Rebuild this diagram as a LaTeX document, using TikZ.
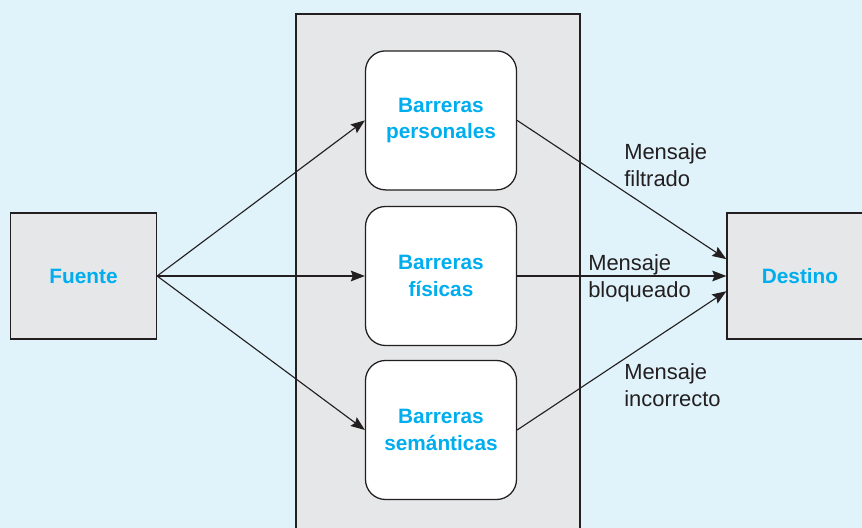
\documentclass[tikz,border=0pt]{standalone}
\usepackage{fontspec}
\setmainfont{Liberation Sans}
\usetikzlibrary{arrows.meta}
\definecolor{bgblue}{RGB}{224,243,251}
\definecolor{boxgray}{RGB}{230,231,232}
\definecolor{titlecyan}{RGB}{0,174,239}
\definecolor{inkdark}{RGB}{35,31,32}
\begin{document}
\begin{tikzpicture}[x=1cm,y=1cm]
\tikzset{
  endbox/.style={rectangle,draw=inkdark,fill=boxgray,line width=0.9pt,minimum width=3.65cm,minimum height=3.15cm,inner sep=0pt,
    font=\fontsize{14.8}{19}\selectfont\bfseries,text=titlecyan},
  barrier/.style={rectangle,rounded corners=0.5cm,draw=inkdark,fill=white,line width=0.9pt,minimum width=3.775cm,minimum height=3.475cm,
    inner sep=0pt,align=center,font=\fontsize{14.8}{19}\selectfont\bfseries,text=titlecyan},
  msglabel/.style={anchor=west,align=left,inner sep=0pt,text=inkdark,font=\fontsize{15.6}{19.2}\selectfont},
  directed/.style={-{Stealth[length=10pt,width=7.6pt,inset=1.5pt]},line width=0.8pt,draw=inkdark}
}
\clip (0,0) rectangle (21.55,13.2);
\fill[bgblue] (0,0) rectangle (21.55,13.2);
\draw[inkdark,fill=boxgray,line width=0.9pt] (7.40,-0.5) rectangle (14.50,12.85);
\node[endbox] (n_fuente) at (2.0875,6.30) {Fuente};
\node[endbox] (n_destino) at (20.00,6.30) {Destino};
\node[barrier] (n_personales) at (11.025,10.19) {Barreras\\personales};
\node[barrier] (n_fisicas) at (11.025,6.30) {Barreras\\físicas};
\node[barrier] (n_semanticas) at (11.025,2.45) {Barreras\\semánticas};
\node[msglabel] (l_filtrado) at (15.60,9.06) {Mensaje\\filtrado};
\node[msglabel] (l_bloqueado) at (14.70,6.23) {Mensaje\\bloqueado};
\node[msglabel] (l_incorrecto) at (15.60,3.56) {Mensaje\\incorrecto};
\draw[directed] (n_fuente.east) -- (n_personales.west);
\draw[directed] (n_fuente.east) -- (n_fisicas.west);
\draw[directed] (n_fuente.east) -- (n_semanticas.west);
\draw[directed] (n_personales.east) -- ([yshift=0.42cm]n_destino.west);
\draw[directed] (n_fisicas.east) -- (n_destino.west);
\draw[directed] (n_semanticas.east) -- ([yshift=-0.38cm]n_destino.west);
\end{tikzpicture}
\end{document}
